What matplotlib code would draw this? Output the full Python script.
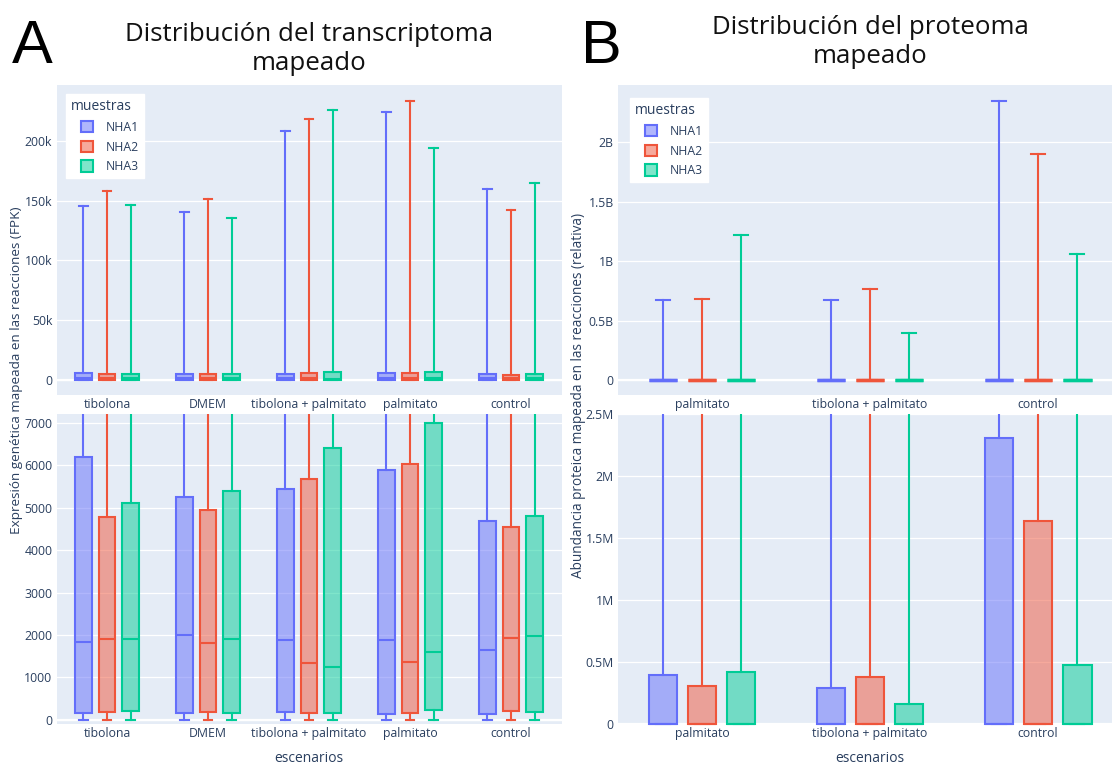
import matplotlib
matplotlib.use("Agg")
import matplotlib.pyplot as plt
from matplotlib.patches import Patch, Rectangle
from matplotlib.legend_handler import HandlerPatch
from matplotlib.ticker import FuncFormatter, MultipleLocator
from matplotlib.colors import to_rgba

plt.rcParams['font.family'] = ['Open Sans', 'DejaVu Sans']

# ---------------- data ----------------
samples = ["NHA1", "NHA2", "NHA3"]
colors = ["#636EFA", "#EF553B", "#00CC96"]

# Transcriptome (FPK) per scenario, one entry per sample (NHA1, NHA2, NHA3)
trans_scenarios = ["tibolona", "DMEM", "tibolona + palmitato", "palmitato", "control"]
trans_max = [
    [145000, 158000, 146000],
    [140500, 151300, 135700],
    [207800, 217800, 225900],
    [223700, 233400, 194200],
    [159300, 142300, 164600],
]
trans_q3 = [
    [6200, 4780, 5110],
    [5250, 4935, 5400],
    [5445, 5665, 6410],
    [5880, 6020, 6985],
    [4675, 4535, 4795],
]
trans_median = [
    [1830, 1905, 1905],
    [2000, 1805, 1905],
    [1890, 1335, 1250],
    [1890, 1360, 1610],
    [1650, 1930, 1985],
]
trans_q1 = [
    [160, 180, 210],
    [160, 180, 175],
    [180, 175, 175],
    [150, 160, 235],
    [140, 220, 195],
]
trans_min = [
    [0, 0, 0],
    [0, 0, 0],
    [0, 0, 0],
    [0, 0, 0],
    [0, 0, 0],
]

# Proteome (relative abundance)
prot_scenarios = ["palmitato", "tibolona + palmitato", "control"]
prot_max = [
    [0.669e9, 0.681e9, 1.216e9],
    [0.672e9, 0.762e9, 0.398e9],
    [2.347e9, 1.896e9, 1.056e9],
]
prot_q3 = [
    [0.398e6, 0.306e6, 0.417e6],
    [0.290e6, 0.382e6, 0.161e6],
    [2.304e6, 1.640e6, 0.473e6],
]
prot_median = [
    [0, 0, 0],
    [0, 0, 0],
    [0, 0, 0],
]
prot_q1 = [
    [0, 0, 0],
    [0, 0, 0],
    [0, 0, 0],
]
prot_min = [
    [0, 0, 0],
    [0, 0, 0],
    [0, 0, 0],
]

# ---------------- layout helpers ----------------
W, H = 1112, 766
fig = plt.figure(figsize=(W / 100, H / 100), dpi=100)
fig.patch.set_facecolor("white")

BG = "#E5ECF6"
TXT = "#2a3f5f"


def add_axes_px(left, top, right, bottom):
    return fig.add_axes([left / W, 1 - bottom / H, (right - left) / W, (bottom - top) / H])


def style_axes(ax, ylim, xlim, ncat, labels, step, fmt):
    ax.set_facecolor(BG)
    for s in ax.spines.values():
        s.set_visible(False)
    ax.set_ylim(*ylim)
    ax.set_xlim(*xlim)
    ax.yaxis.set_major_locator(MultipleLocator(step))
    ax.yaxis.set_major_formatter(FuncFormatter(fmt))
    ax.set_xticks(range(ncat))
    ax.set_xticklabels(labels)
    ax.tick_params(axis="both", length=0, labelsize=8.8, colors=TXT)
    ax.tick_params(axis="x", pad=2.5)
    ax.tick_params(axis="y", pad=3)
    ax.grid(axis="y", color="white", linewidth=0.9)
    ax.set_axisbelow(True)
    ax.axhline(0, color="white", linewidth=1.6, zorder=0.5)


def draw_boxes(ax, mins, q1s, meds, q3s, maxs, clip=True, lw=1.5):
    offsets = [-0.234, 0.0, 0.234]
    width = 0.168
    for ci in range(len(mins)):
        for si, col in enumerate(colors):
            st = [dict(whislo=mins[ci][si], q1=q1s[ci][si], med=meds[ci][si],
                       q3=q3s[ci][si], whishi=maxs[ci][si], fliers=[])]
            art = ax.bxp(st, positions=[ci + offsets[si]], widths=width,
                         capwidths=width * 0.5, patch_artist=True, showfliers=False,
                         manage_ticks=False,
                         boxprops=dict(facecolor=to_rgba(col, 0.5), edgecolor=col, linewidth=lw),
                         medianprops=dict(color=col, linewidth=lw),
                         whiskerprops=dict(color=col, linewidth=1.5),
                         capprops=dict(color=col, linewidth=1.5))
            if not clip:
                for key in ("boxes", "medians", "caps"):
                    for a in art[key]:
                        a.set_clip_on(False)


def square_handle(legend, orig_handle, xdescent, ydescent, width, height, fontsize):
    side = height * 1.15
    return Rectangle((width - side - xdescent, -ydescent + (height - side) / 2), side, side)


def add_legend(ax, x_px, y_px):
    handles = [Patch(facecolor=to_rgba(c, 0.5), edgecolor=c, linewidth=1.5) for c in colors]
    leg = ax.legend(handles, samples, title="muestras", loc="upper left",
                    bbox_to_anchor=(x_px / W, 1 - y_px / H), bbox_transform=fig.transFigure,
                    fontsize=8.8, title_fontsize=10, frameon=True, fancybox=False,
                    framealpha=1, edgecolor="white", facecolor="white",
                    handlelength=1.75, handleheight=0.85, handletextpad=1.05,
                    labelspacing=0.55, borderpad=0.42, borderaxespad=0,
                    alignment="left",
                    handler_map={Patch: HandlerPatch(patch_func=square_handle)})
    for t in leg.get_texts():
        t.set_color(TXT)
    leg.get_title().set_color(TXT)
    leg.set_zorder(10)


k_fmt = lambda v, p: "0" if v == 0 else f"{v / 1000:g}k"
plain_fmt = lambda v, p: f"{v:g}"
b_fmt = lambda v, p: "0" if v == 0 else f"{v / 1e9:g}B"
m_fmt = lambda v, p: "0" if v == 0 else f"{v / 1e6:g}M"

# ---------------- panel A: transcriptome ----------------
axA_top = add_axes_px(56.5, 85, 561.5, 395)
axA_bot = add_axes_px(56.5, 414, 561.5, 724)
nA = len(trans_scenarios)
style_axes(axA_top, (-12500, 246500), (-0.5, nA - 0.5), nA, trans_scenarios, 50000, k_fmt)
style_axes(axA_bot, (-95, 7205), (-0.5, nA - 0.5), nA, trans_scenarios, 1000, plain_fmt)
draw_boxes(axA_top, trans_min, trans_q1, trans_median, trans_q3, trans_max)
draw_boxes(axA_bot, trans_min, trans_q1, trans_median, trans_q3, trans_max)
add_legend(axA_top, 66, 94)

# ---------------- panel B: proteome ----------------
axB_top = add_axes_px(618, 85, 1112, 395)
axB_bot = add_axes_px(618, 414, 1112, 724)
nB = len(prot_scenarios)
xr = (-0.5, 2.44)
style_axes(axB_top, (-0.126e9, 2.479e9), xr, nB, prot_scenarios, 0.5e9, b_fmt)
style_axes(axB_bot, (0, 2.5e6), xr, nB, prot_scenarios, 0.5e6, m_fmt)
draw_boxes(axB_top, prot_min, prot_q1, prot_median, prot_q3, prot_max, lw=2.4)
draw_boxes(axB_bot, prot_min, prot_q1, prot_median, prot_q3, prot_max, clip=False)
add_legend(axB_top, 630, 98)

# ---------------- titles and axis labels ----------------
fig.text(309 / W, 1 - 49 / H, "Distribución del transcriptoma\nmapeado", ha="center", va="center",
         fontsize=18.6, color="#111111", linespacing=1.25)
fig.text(870 / W, 1 - 42 / H, "Distribución del proteoma\nmapeado", ha="center", va="center",
         fontsize=18.6, color="#111111", linespacing=1.25)
fig.text(32 / W, 1 - 63 / H, "A", ha="center", va="baseline", fontsize=44,
         family="Liberation Sans", color="black")
fig.text(601 / W, 1 - 63 / H, "B", ha="center", va="baseline", fontsize=44,
         family="Liberation Sans", color="black")

fig.text(17 / W, 1 - 370 / H, "Expresión genética mapeada en las reacciones (FPK)", rotation=90,
         ha="center", va="center", fontsize=9.7, color=TXT)
fig.text(578 / W, 1 - 395 / H, "Abundancia proteica mapeada en las reacciones (relativa)", rotation=90,
         ha="center", va="center", fontsize=9.8, color=TXT)
fig.text(309 / W, 1 - 759 / H, "escenarios", ha="center", va="center", fontsize=10, color=TXT)
fig.text(870 / W, 1 - 759 / H, "escenarios", ha="center", va="center", fontsize=10, color=TXT)

fig.savefig("out.png", dpi=100)
